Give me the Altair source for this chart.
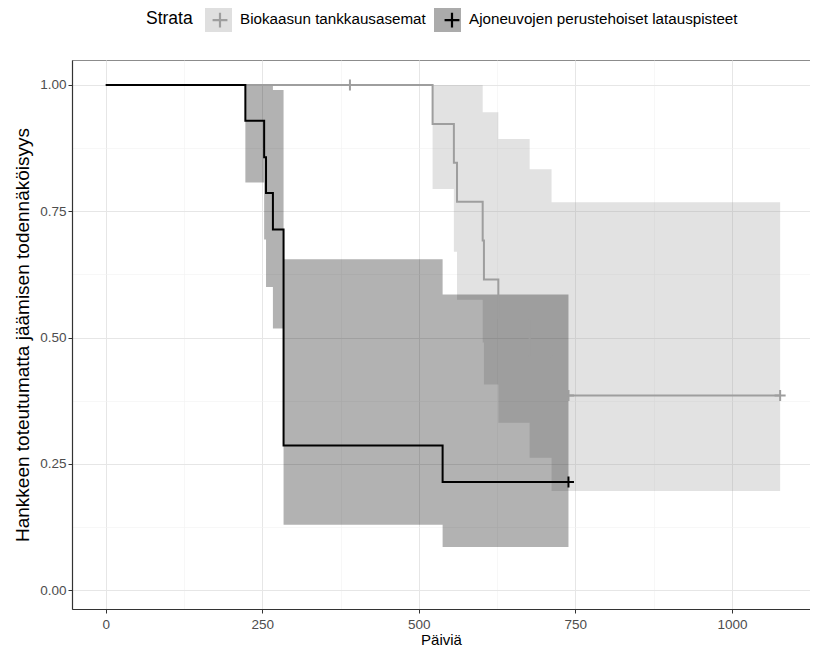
import altair as alt
import pandas as pd

strata = ["Biokaasun tankkausasemat", "Ajoneuvojen perustehoiset latauspisteet"]

# Kaplan-Meier curve: Biokaasun tankkausasemat
bio_time = [0, 522, 556, 561, 602, 604, 627, 677, 712, 1077]
bio_surv = [1.0, 0.923, 0.846, 0.769, 0.692, 0.615, 0.538, 0.462, 0.385, 0.385]
bio_ci_time = [522, 556, 561, 602, 604, 627, 677, 712, 1077]
bio_lower = [0.794, 0.670, 0.575, 0.490, 0.407, 0.331, 0.262, 0.196, 0.196]
bio_upper = [1.0, 1.0, 1.0, 0.946, 0.946, 0.893, 0.833, 0.768, 0.768]
bio_cens_time = [390, 739, 1077]
bio_cens_surv = [1.0, 0.385, 0.385]

# Kaplan-Meier curve: Ajoneuvojen perustehoiset latauspisteet
ajo_time = [0, 223, 253, 256, 267, 284, 538, 739]
ajo_surv = [1.0, 0.929, 0.857, 0.786, 0.714, 0.286, 0.214, 0.214]
ajo_ci_time = [223, 253, 256, 267, 284, 538, 739]
ajo_lower = [0.807, 0.694, 0.600, 0.518, 0.129, 0.085, 0.085]
ajo_upper = [1.0, 1.0, 1.0, 0.990, 0.655, 0.585, 0.585]
ajo_cens_time = [739]
ajo_cens_surv = [0.214]

x_major = [0, 250, 500, 750, 1000]
x_minor = [125, 375, 625, 875]
y_major = [0.0, 0.25, 0.5, 0.75, 1.0]
y_minor = [0.125, 0.375, 0.625, 0.875]

line_colors = ["#9e9e9e", "#000000"]
fill_colors = ["#9e9e9e", "#000000"]

curve_df = pd.concat([
    pd.DataFrame({"time": bio_time, "surv": bio_surv, "Strata": strata[0]}),
    pd.DataFrame({"time": ajo_time, "surv": ajo_surv, "Strata": strata[1]}),
], ignore_index=True)
ci_df = pd.concat([
    pd.DataFrame({"time": bio_ci_time, "lower": bio_lower, "upper": bio_upper, "Strata": strata[0]}),
    pd.DataFrame({"time": ajo_ci_time, "lower": ajo_lower, "upper": ajo_upper, "Strata": strata[1]}),
], ignore_index=True)
cens_df = pd.concat([
    pd.DataFrame({"time": bio_cens_time, "surv": bio_cens_surv, "Strata": strata[0]}),
    pd.DataFrame({"time": ajo_cens_time, "surv": ajo_cens_surv, "Strata": strata[1]}),
], ignore_index=True)

FONT = "Liberation Sans"
x_scale = alt.Scale(domain=[-53.85, 1124.7], nice=False, zero=False)
y_scale = alt.Scale(domain=[-0.0376, 1.0495], nice=False, zero=False)

x_axis = alt.Axis(
    values=sorted(x_major + x_minor), format="d",
    labelExpr="datum.value % 250 == 0 ? datum.label : ''",
    tickOpacity={"condition": {"test": "datum.value % 250 != 0", "value": 0}, "value": 1},
    gridWidth={"condition": {"test": "datum.value % 250 != 0", "value": 0.6}, "value": 1},
    gridColor={"condition": {"test": "datum.value % 250 != 0", "value": "#f2f2f2"}, "value": "#e6e6e6"},
    title="Päiviä", titlePadding=2, labelPadding=4,
)
y_axis = alt.Axis(
    values=sorted(y_major + y_minor), format=".2f",
    labelExpr="datum.value % 0.25 == 0 ? datum.label : ''",
    tickOpacity={"condition": {"test": "datum.value % 0.25 != 0", "value": 0}, "value": 1},
    gridWidth={"condition": {"test": "datum.value % 0.25 != 0", "value": 0.6}, "value": 1},
    gridColor={"condition": {"test": "datum.value % 0.25 != 0", "value": "#f2f2f2"}, "value": "#e6e6e6"},
    title="Hankkeen toteutumatta jäämisen todennäköisyys", titlePadding=7, labelPadding=2,
)

legend_common = dict(
    orient="none", legendX=74, legendY=-55, direction="horizontal",
    title="Strata", titleOrient="left", titleAnchor="middle", titleBaseline="middle",
    titlePadding=12, symbolSize=729, labelOffset=8, columnPadding=8, labelLimit=400,
    labelFont=FONT, labelFontSize=15.2, labelColor="#000000",
    titleFont=FONT, titleFontSize=17.5, titleFontWeight="normal", titleColor="#000000",
)

fill_legend = alt.Legend(symbolType="square", symbolStrokeWidth=0, symbolOpacity=0.33, **legend_common)
stroke_legend = alt.Legend(
    symbolType="M-0.55,0H0.55M0,-0.55V0.55", symbolFillColor="transparent",
    symbolStrokeWidth=2.2, labelOpacity=0, titleOpacity=0, **legend_common,
)

ribbons = alt.Chart(ci_df).mark_area(interpolate="step-after", fillOpacity=0.3).encode(
    x=alt.X("time:Q", scale=x_scale, axis=x_axis),
    y=alt.Y("lower:Q", scale=y_scale, axis=y_axis),
    y2="upper:Q",
    fill=alt.Fill("Strata:N", scale=alt.Scale(domain=strata, range=fill_colors), legend=fill_legend),
)

lines = alt.Chart(curve_df).mark_line(interpolate="step-after", strokeWidth=2).encode(
    x=alt.X("time:Q", scale=x_scale),
    y=alt.Y("surv:Q", scale=y_scale),
    stroke=alt.Stroke("Strata:N", sort="descending", scale=alt.Scale(range=line_colors), legend=stroke_legend),
    detail="Strata:N",
)

censors = alt.Chart(cens_df).mark_point(
    shape="M-1,0H1M0,-1V1", size=121, strokeWidth=2, filled=False, opacity=1
).encode(
    x=alt.X("time:Q", scale=x_scale),
    y=alt.Y("surv:Q", scale=y_scale),
    stroke=alt.Stroke("Strata:N", sort="descending", scale=alt.Scale(range=line_colors), legend=stroke_legend),
)

chart = alt.layer(ribbons, lines, censors).properties(
    width=738, height=549,
    padding={"left": 64, "top": 52, "right": 0, "bottom": 40},
    autosize=alt.AutoSizeParams(type="none"),
).configure_view(
    stroke="#8c8c8c", strokeWidth=1
).configure_axis(
    labelFont=FONT, labelFontSize=13.5, labelColor="#4d4d4d",
    titleFont=FONT, titleFontSize=15, titleColor="#000000", titleFontWeight="normal",
    tickColor="#333333", tickSize=4, domainColor="#333333", domainWidth=1.2,
).configure_axisY(
    titleFontSize=19,
)

chart.save("out.html", embed_options={"renderer": "svg", "actions": False})
